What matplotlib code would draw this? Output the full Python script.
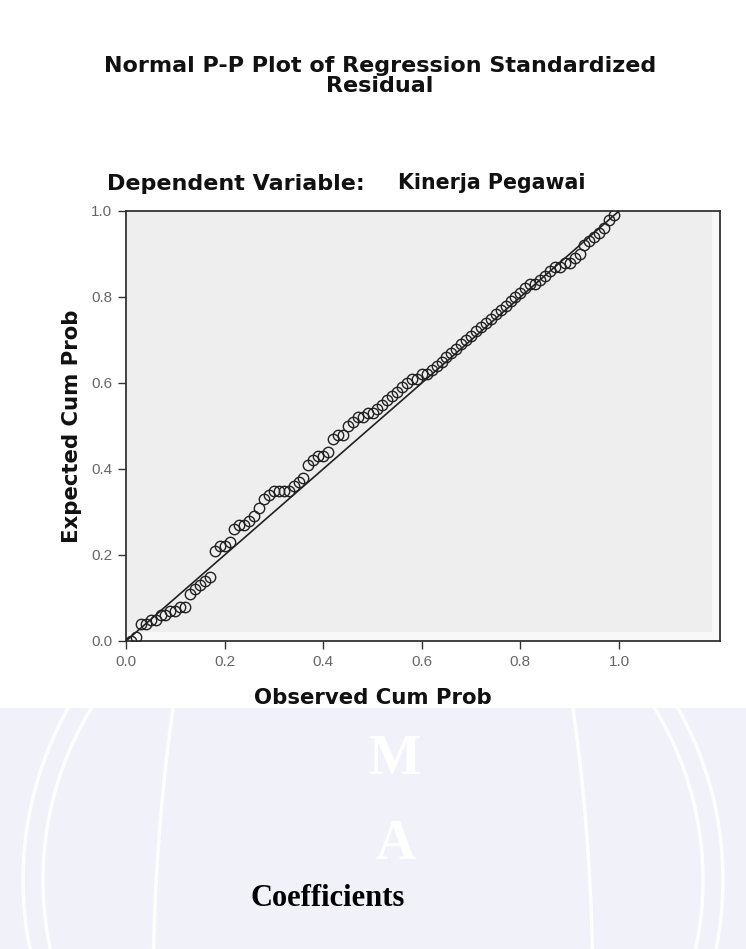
import matplotlib
matplotlib.use("Agg")
import matplotlib.pyplot as plt
from matplotlib.patches import Rectangle, Ellipse

observed = [0.01, 0.02, 0.03, 0.04, 0.05, 0.06, 0.07, 0.08, 0.09, 0.10,
            0.11, 0.12, 0.13, 0.14, 0.15, 0.16, 0.17, 0.18, 0.19, 0.20,
            0.21, 0.22, 0.23, 0.24, 0.25, 0.26, 0.27, 0.28, 0.29, 0.30,
            0.31, 0.32, 0.33, 0.34, 0.35, 0.36, 0.37, 0.38, 0.39, 0.40,
            0.41, 0.42, 0.43, 0.44, 0.45, 0.46, 0.47, 0.48, 0.49, 0.50,
            0.51, 0.52, 0.53, 0.54, 0.55, 0.56, 0.57, 0.58, 0.59, 0.60,
            0.61, 0.62, 0.63, 0.64, 0.65, 0.66, 0.67, 0.68, 0.69, 0.70,
            0.71, 0.72, 0.73, 0.74, 0.75, 0.76, 0.77, 0.78, 0.79, 0.80,
            0.81, 0.82, 0.83, 0.84, 0.85, 0.86, 0.87, 0.88, 0.89, 0.90,
            0.91, 0.92, 0.93, 0.94, 0.95, 0.96, 0.97, 0.98, 0.99]
expected = [0.00, 0.01, 0.04, 0.04, 0.05, 0.05, 0.06, 0.06, 0.07, 0.07,
            0.08, 0.08, 0.11, 0.12, 0.13, 0.14, 0.15, 0.21, 0.22, 0.22,
            0.23, 0.26, 0.27, 0.27, 0.28, 0.29, 0.31, 0.33, 0.34, 0.35,
            0.35, 0.35, 0.35, 0.36, 0.37, 0.38, 0.41, 0.42, 0.43, 0.43,
            0.44, 0.47, 0.48, 0.48, 0.50, 0.51, 0.52, 0.52, 0.53, 0.53,
            0.54, 0.55, 0.56, 0.57, 0.58, 0.59, 0.60, 0.61, 0.61, 0.62,
            0.62, 0.63, 0.64, 0.65, 0.66, 0.67, 0.68, 0.69, 0.70, 0.71,
            0.72, 0.73, 0.74, 0.75, 0.76, 0.77, 0.78, 0.79, 0.80, 0.81,
            0.82, 0.83, 0.83, 0.84, 0.85, 0.86, 0.87, 0.87, 0.88, 0.88,
            0.89, 0.90, 0.92, 0.93, 0.94, 0.95, 0.96, 0.98, 0.99]
ref_line = [0.0, 1.0]
tick_values = [0.0, 0.2, 0.4, 0.6, 0.8, 1.0]
tick_labels = ["0.0", "0.2", "0.4", "0.6", "0.8", "1.0"]

W, H = 746, 949
fig = plt.figure(figsize=(W / 100, H / 100), dpi=100)
fig.patch.set_facecolor("white")

# lower watermark area
bg = fig.add_axes([0, 0, 1, 1 - 708 / H], zorder=0)
bg.set_xlim(0, W)
bg.set_ylim(H, 708)
bg.axis("off")
bg.add_patch(Rectangle((0, 708), W, H - 708, facecolor="#f1f1fa", edgecolor="none"))
for w, h, cy in [(700, 700, 880), (660, 660, 880), (440, 1400, 1000)]:
    bg.add_patch(Ellipse((373, cy), w, h, facecolor="none", edgecolor="white",
                         linewidth=2.5, alpha=0.9))
bg.text(395, 760, "M", fontsize=40, fontweight="bold", color="white",
        family="Liberation Serif", ha="center", va="center")
bg.text(395, 845, "A", fontsize=40, fontweight="bold", color="white",
        family="Liberation Serif", ha="center", va="center")
bg.text(250, 898, "Coefficients", fontsize=22, fontweight="bold", color="black",
        family="Liberation Serif", ha="left", va="center")

# main axes
x0, x1 = 126, 720
y0, y1 = 641, 211
ax = fig.add_axes([x0 / W, 1 - y0 / H, (x1 - x0) / W, (y0 - y1) / H], zorder=2)
ax.set_facecolor("#f8f8f8")
ax.add_patch(Rectangle((0, (y0 - 632) / (y0 - y1)), (712 - x0) / (x1 - x0),
                       1 - (y0 - 632) / (y0 - y1), transform=ax.transAxes,
                       facecolor="#eeeeee", edgecolor="none", zorder=0))
ax.set_xlim(0, (x1 - x0) / 493)
ax.set_ylim(0, 1.0)
ax.plot(ref_line, ref_line, color="#222222", linewidth=1.2, zorder=2)
ax.plot(observed, expected, linestyle="none", marker="o", markersize=7.5,
        markerfacecolor="none", markeredgecolor="#222222", markeredgewidth=1.0,
        zorder=3)
for s in ax.spines.values():
    s.set_color("#333333")
    s.set_linewidth(1.3)
ax.set_xticks(tick_values)
ax.set_xticklabels(tick_labels)
ax.set_yticks(tick_values)
ax.set_yticklabels(tick_labels)
ax.tick_params(direction="out", length=6, width=1, color="#333333",
               labelsize=11, labelcolor="#666666", pad=4)
for lab in ax.get_xticklabels() + ax.get_yticklabels():
    lab.set_family("Liberation Sans")

ax.set_xlabel("Observed Cum Prob", fontsize=15.3, fontweight="bold",
              family="DejaVu Sans", color="#111111")
ax.xaxis.set_label_coords(0.5 * 493 / (x1 - x0), (y0 - 698) / (y0 - y1))
ax.xaxis.label.set_va("center")
ax.set_ylabel("Expected Cum Prob", fontsize=15.3, fontweight="bold",
              family="DejaVu Sans", color="#111111")
ax.yaxis.set_label_coords((72 - x0) / (x1 - x0), (y0 - 426) / (y0 - y1))
ax.yaxis.label.set_va("center")

fig.text(380 / W, 1 - 76 / H, "Normal P-P Plot of Regression Standardized\nResidual",
         fontsize=16, fontweight="bold", family="DejaVu Sans", ha="center",
         va="center", linespacing=0.95, color="#111111")
fig.text(107 / W, 1 - 184 / H, "Dependent Variable:", fontsize=16, fontweight="bold",
         family="DejaVu Sans", ha="left", va="center", color="#111111")
fig.text(398 / W, 1 - 183 / H, "Kinerja Pegawai", fontsize=14.8, fontweight="bold",
         family="DejaVu Sans", ha="left", va="center", color="#111111")

fig.savefig("out.png", dpi=100)
